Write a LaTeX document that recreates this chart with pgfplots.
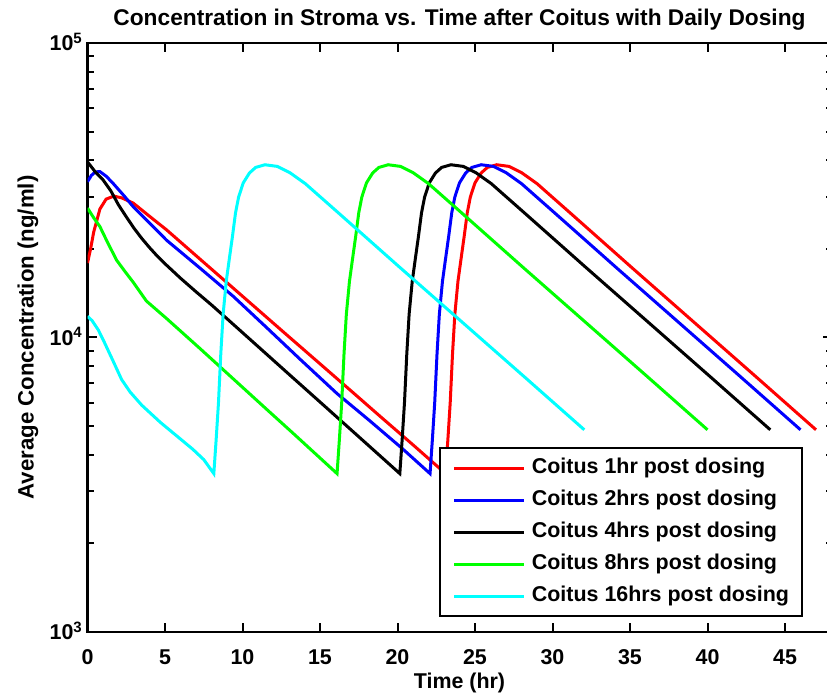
\documentclass[border=0pt]{standalone}
\usepackage{pgfplots}
\pgfplotsset{compat=1.18}
\usepackage{fontspec}
\setmainfont{Liberation Sans}
\definecolor{mred}{RGB}{255,0,0}
\definecolor{mblue}{RGB}{0,0,255}
\definecolor{mgreen}{RGB}{0,255,0}
\definecolor{mcyan}{RGB}{0,255,255}
\begin{document}
\begin{tikzpicture}
\begin{axis}[
  scale only axis,
  width=744bp, height=589bp,
  at={(87.5bp,64bp)}, anchor=south west,
  xmin=0, xmax=48, ymin=1000, ymax=100000,
  ymode=log,
  xtick={0,5,...,45},
  ytick={1000,10000,100000},
  yticklabels={10\textsuperscript{3},10\textsuperscript{4},10\textsuperscript{5}},
  minor ytick={2000,3000,4000,5000,6000,7000,8000,9000,20000,30000,40000,50000,60000,70000,80000,90000},
  tick align=inside,
  major tick length=9bp, minor tick length=6bp,
  every tick/.style={black, line width=2bp},
  axis line style={line width=2.5bp},
  /pgf/number format/assume math mode=true,
  tick label style={font=\fontsize{21.5}{21.5}\selectfont\bfseries, inner sep=0pt},
  xticklabel style={anchor=center, yshift=-25bp},
  yticklabel style={anchor=base east, xshift=-5bp, yshift=-8bp},
  title={Concentration in Stroma vs. Time after Coitus with Daily Dosing},
  title style={font=\fontsize{22.8}{22.8}\selectfont\bfseries, at={(0.5,1.0289)}, anchor=center, inner sep=0pt},
  xlabel={Time (hr)},
  xlabel style={font=\fontsize{21.5}{21.5}\selectfont\bfseries, at={(0.5,-0.08659)}, anchor=center, inner sep=0pt},
  ylabel={Average Concentration (ng/ml)},
  ylabel style={font=\fontsize{22.3}{22.3}\selectfont\bfseries, at={(-0.0800,0.5)}, anchor=center, inner sep=0pt},
  legend style={at={(0.96169,0.02547)}, anchor=south east, draw=black, line width=2bp, fill=white,
    font=\fontsize{21.5}{21.5}\selectfont\bfseries, inner xsep=13bp, inner ysep=10bp,
    row sep=12.5bp, column sep=6bp,
    nodes={inner sep=0pt, text height=15bp, text depth=4.5bp}},
  legend cell align=left,
  legend image code/.code={\draw[#1] (0bp,0bp) -- (70bp,0bp);},
  every axis plot/.append style={line width=3bp},
]
% Coitus 1hr
\addplot[mred] coordinates {
(0,17900) (0.2,20000) (0.4,22800) (0.8,27300) (1.2,29500) (1.7,30200) (2.2,29800) (2.95,28600)
(4,25800) (5.1,23200) (7,18970) (9,15350) (11,12420) (13,10050) (15,8140) (17,6590) (19,5330) (21,4320)
(23.1,3450) (23.25,4500) (23.4,6000) (23.55,8800) (23.7,12000) (23.9,15500) (24.1,18500) (24.3,22000)
(24.5,26500) (24.7,30000) (25.0,33500) (25.4,36200) (25.8,37800) (26.4,38600) (27.2,38100) (28.0,36300)
(29.0,33300) (31.1,26600) (35.1,17300) (39.1,11300) (43.1,7380) (47.0,4860)};
\addlegendentry{Coitus 1hr post dosing}
% Coitus 2hrs
\addplot[mblue] coordinates {
(0,33800) (0.25,35500) (0.5,36500) (0.8,36600) (1.2,35300) (1.6,33600) (2.4,30100) (2.95,27800)
(5.1,21400) (7.26,17200) (9.4,13800) (11.56,10800) (13.7,8450) (16.1,6450) (18.2,5220) (20.3,4200)
(22.1,3450) (22.25,4500) (22.4,6000) (22.55,8800) (22.7,12000) (22.9,15500) (23.1,18500) (23.3,22000)
(23.5,26500) (23.7,30000) (24.0,33500) (24.4,36200) (24.8,37800) (25.4,38600) (26.2,38100) (27.0,36300)
(28.0,33300) (30.1,26600) (34.1,17300) (38.1,11300) (42.1,7380) (46.0,4860)};
\addlegendentry{Coitus 2hrs post dosing}
% Coitus 4hrs
\addplot[black] coordinates {
(0,39500) (0.5,36500) (1,34300) (1.5,31500) (2,28200) (2.5,25700) (3,23500) (3.5,21700) (4,20200) (4.5,18900) (5,17800)
(6,15900) (7,14300) (8,12900) (9,11580) (11,9320) (13,7500) (15,6040) (17,4860) (19,3910)
(20.15,3450) (20.30,4500) (20.45,6000) (20.60,8800) (20.75,12000) (20.95,15500) (21.15,18500) (21.35,22000)
(21.55,26500) (21.75,30000) (22.05,33500) (22.45,36200) (22.85,37800) (23.45,38600) (24.25,38100) (25.05,36300)
(26.05,33300) (28.15,26600) (32.15,17300) (36.15,11300) (40.15,7380) (44.05,4860)};
\addlegendentry{Coitus 4hrs post dosing}
% Coitus 8hrs
\addplot[mgreen] coordinates {
(0,27500) (0.4,25500) (0.8,23800) (1.3,21000) (1.88,18300) (2.4,16800) (2.95,15400) (3.8,13300)
(5.1,11600) (7.26,9170) (9.4,7240) (11.5,5740) (13.3,4710)
(16.1,3450) (16.25,4500) (16.4,6000) (16.55,8800) (16.7,12000) (16.9,15500) (17.1,18500) (17.3,22000)
(17.5,26500) (17.7,30000) (18.0,33500) (18.4,36200) (18.8,37800) (19.4,38600) (20.2,38100) (21.0,36300)
(22.0,33300) (24.1,26600) (28.1,17300) (32.1,11300) (36.1,7380) (40.0,4860)};
\addlegendentry{Coitus 8hrs post dosing}
% Coitus 16hrs
\addplot[mcyan] coordinates {
(0,11800) (0.3,11400) (0.7,10600) (1.1,9600) (1.66,8300) (2.2,7200) (2.75,6530) (3.5,5890)
(4.7,5150) (6.0,4520) (6.8,4170) (7.5,3850)
(8.15,3450) (8.30,4500) (8.45,6000) (8.60,8800) (8.75,12000) (8.95,15500) (9.15,18500) (9.35,22000)
(9.55,26500) (9.75,30000) (10.05,33500) (10.45,36200) (10.85,37800) (11.45,38600) (12.25,38100) (13.05,36300)
(14.05,33300) (16.15,26600) (20.15,17300) (24.15,11300) (28.15,7380) (32.05,4860)};
\addlegendentry{Coitus 16hrs post dosing}
\end{axis}
\pgfresetboundingbox
\path[use as bounding box] (0,0) rectangle (827bp,696bp);
\end{tikzpicture}
\end{document}
